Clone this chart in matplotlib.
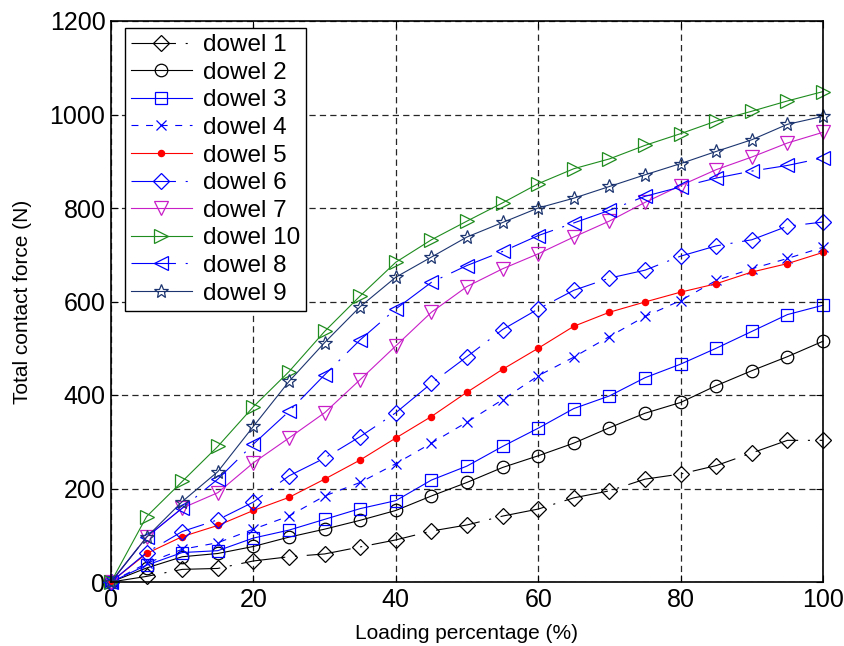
import matplotlib
matplotlib.use("Agg")
import matplotlib.pyplot as plt

plt.rcParams['font.family'] = ['Liberation Sans', 'DejaVu Sans']
plt.rcParams['lines.scale_dashes'] = False

# loading percentage (%)
x = [0, 5, 10, 15, 20, 25, 30, 35, 40, 45, 50, 55, 60, 65, 70, 75, 80, 85, 90, 95, 100]

# total contact force (N)
dowel1 = [0, 12, 27, 29, 45, 54, 60, 75, 90, 109, 122, 141, 156, 180, 195, 220, 231, 249, 276, 303, 303]
dowel2 = [0, 30, 54, 61, 76, 96, 113, 132, 153, 184, 213, 245, 270, 297, 330, 361, 384, 420, 452, 482, 515]
dowel3 = [0, 36, 63, 67, 94, 111, 134, 157, 174, 218, 248, 290, 329, 371, 398, 437, 466, 500, 536, 572, 592]
dowel4 = [0, 40, 70, 84, 113, 141, 184, 213, 253, 297, 342, 390, 441, 481, 525, 568, 602, 645, 670, 692, 716]
dowel5 = [0, 61, 97, 121, 153, 181, 220, 261, 308, 354, 406, 455, 500, 547, 577, 599, 620, 638, 663, 681, 705]
dowel6 = [0, 63, 108, 133, 171, 227, 265, 311, 362, 425, 482, 540, 584, 624, 650, 667, 697, 719, 732, 761, 770]
dowel7 = [0, 96, 158, 191, 255, 308, 362, 433, 505, 577, 632, 670, 702, 738, 772, 812, 848, 882, 909, 939, 962]
dowel10 = [0, 140, 215, 290, 375, 450, 536, 612, 684, 732, 772, 811, 852, 884, 905, 934, 959, 986, 1007, 1029, 1049]
dowel8 = [0, 96, 158, 220, 295, 365, 443, 518, 584, 641, 677, 707, 741, 768, 795, 825, 845, 864, 879, 891, 907]
dowel9 = [0, 96, 172, 236, 333, 429, 512, 589, 652, 695, 738, 769, 800, 821, 846, 871, 895, 921, 946, 979, 996]

dashdot = (32, 7, 1.5, 7)
dashed = (5, 5.5)

# label, data, colour, marker, markersize, dashes (None = solid)
series = [
    ("dowel 1", dowel1, "black", "D", 8, dashdot),
    ("dowel 2", dowel2, "black", "o", 9, None),
    ("dowel 3", dowel3, "blue", "s", 9, None),
    ("dowel 4", dowel4, "blue", "x", 6.5, dashed),
    ("dowel 5", dowel5, "red", "o", 4.5, None),
    ("dowel 6", dowel6, "blue", "D", 8, dashdot),
    ("dowel 7", dowel7, "#c81ec8", "v", 10.5, None),
    ("dowel 10", dowel10, "#1e8c1e", ">", 10.5, None),
    ("dowel 8", dowel8, "blue", "<", 10.5, dashdot),
    ("dowel 9", dowel9, "#1c3570", "*", 10.5, None),
]

fig = plt.figure(figsize=(8.45, 6.46), dpi=100)
ax = fig.add_axes([111 / 845, 1 - 582 / 646, 712 / 845, 561 / 646])

for name, y, col, mk, ms, ds in series:
    face = col if name == "dowel 5" else "none"
    line, = ax.plot(x, y, color=col, lw=0.8, marker=mk, ms=ms,
                    mfc=face, mec=col, mew=0.9, label=name, clip_on=False)
    if ds is not None:
        line.set_dashes(ds)

ax.set_xlim(0, 100)
ax.set_ylim(0, 1200)
ax.set_xticks(range(0, 101, 20))
ax.set_yticks(range(0, 1201, 200))
ax.grid(True, color="0.15", lw=0.9, dashes=(4.5, 3))
ax.tick_params(direction="in", length=5, width=0.8, top=True, right=True,
               labelsize=18, pad=4)
for sp in ax.spines.values():
    sp.set_linewidth(1.2)

ax.set_xlabel("Loading percentage (%)", fontsize=15, labelpad=9)
ax.set_ylabel("Total contact force (N)", fontsize=15, labelpad=13)

leg = ax.legend(loc="upper left", bbox_to_anchor=(14 / 712, 554 / 561),
                fontsize=17.5, numpoints=1, handlelength=2.5,
                handletextpad=0.45, labelspacing=0.23, borderpad=0.25,
                borderaxespad=0, fancybox=False, framealpha=1)
leg.get_frame().set_edgecolor("black")
leg.get_frame().set_linewidth(1.0)
leg.set_zorder(5)

fig.savefig("out.png", dpi=100)
